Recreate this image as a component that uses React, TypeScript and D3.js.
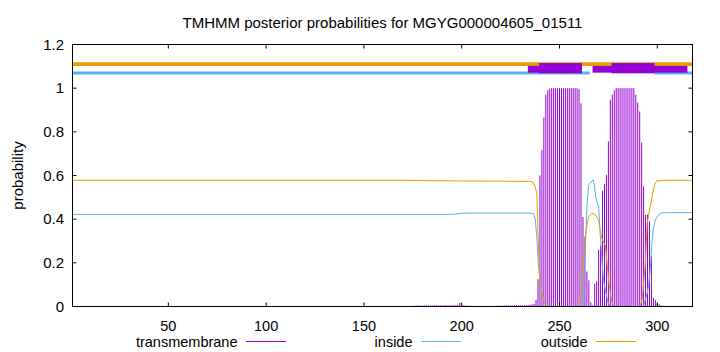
import React from "react";
import * as d3 from "d3";

const TITLE = "TMHMM posterior probabilities for MGYG000004605_01511";
const Y_LABEL = "probability";
const SEQ_LENGTH = 318;

const xTicks = [50, 100, 150, 200, 250, 300];
const yTicks = [0, 0.2, 0.4, 0.6, 0.8, 1, 1.2];
const yTickLabels = ["0", "0.2", "0.4", "0.6", "0.8", "1", "1.2"];

// transmembrane posterior probability per residue, starting at residue 175
const tmStart = 175;
const tmProb = [
  0.003, 0.004, 0.004, 0.005, 0.004, 0.004, 0.005, 0.005, 0.004, 0.005, 0.005, 0.006,
  0.005, 0.005, 0.006, 0.005, 0.006, 0.006, 0.005, 0.006, 0.006, 0.006, 0.007, 0.008,
  0.016,
  0.006, 0.005, 0.005, 0.004, 0.004, 0.003, 0.003,
  0.002, 0.002, 0.001, 0.001, 0.001, 0.001, 0.001, 0.002, 0.002,
  0.003, 0.003, 0.004, 0.004, 0.004, 0.004, 0.005, 0.005, 0.005, 0.005, 0.005, 0.005,
  0.006, 0.006, 0.006, 0.006, 0.006, 0.007, 0.007, 0.008, 0.01,
  0.012, 0.03, 0.125, 0.6, 0.718, 0.866, 0.97, 0.99,
  0.998, 1, 1, 1, 1, 1, 1, 1, 1, 1, 1, 1, 1, 1, 1,
  0.995, 0.93, 0.41, 0.32, 0.16, 0.12, 0.02, 0.005,
  0.104, 0.115, 0.26, 0.28, 0.53, 0.562, 0.603, 0.756, 0.947, 0.97, 0.99,
  1, 1, 1, 1, 1, 1, 1, 1, 1, 1,
  0.97, 0.934, 0.893, 0.751, 0.55, 0.42, 0.42, 0.39, 0.23, 0.04, 0.03, 0.015, 0.01, 0.005, 0.003,
];

// inside probability [residue, value]
const insidePoints: [number, number][] = [
  [1, 0.422], [195, 0.422], [199, 0.426], [203, 0.428], [234, 0.428], [236.8, 0.425],
  [237.6, 0.4], [238.4, 0.32], [239.3, 0.18], [240.1, 0.12], [241, 0.06], [242.2, 0.03],
  [244.4, 0.005], [246, 0], [261.5, 0], [262.3, 0.12], [263.2, 0.27], [264, 0.457],
  [264.9, 0.557], [265.7, 0.564], [266.6, 0.575], [267.2, 0.58], [267.9, 0.55], [268.5, 0.5],
  [269.1, 0.48], [270, 0.46], [270.8, 0.335], [271.7, 0.213], [272.5, 0.12], [273.8, 0.06],
  [274.9, 0.015], [276, 0], [292.9, 0], [294.8, 0.06], [295.6, 0.1], [296.5, 0.18],
  [297.3, 0.3], [298.1, 0.36], [299, 0.396], [299.9, 0.41], [301.6, 0.427], [304.1, 0.43],
  [318, 0.43],
];

// outside probability [residue, value]
const outsidePoints: [number, number][] = [
  [1, 0.578], [170, 0.578], [178, 0.577], [185, 0.576], [200, 0.575], [220, 0.574],
  [234, 0.573], [236.5, 0.57], [237.5, 0.55], [238.4, 0.518], [239.3, 0.26], [240.1, 0.106],
  [241.8, 0.03], [242.7, 0.008], [244.5, 0], [259.7, 0], [260.6, 0.04], [261.5, 0.12],
  [262.3, 0.228], [263.2, 0.32], [264, 0.37], [264.9, 0.41], [266.6, 0.427], [268.3, 0.42],
  [269.2, 0.41], [270, 0.39], [271, 0.34], [271.7, 0.31], [273.4, 0.28], [274.3, 0.2],
  [275.1, 0.12], [276.5, 0.03], [277.7, 0], [291, 0], [292.2, 0.03], [293.9, 0.2],
  [294.8, 0.38], [295.6, 0.42], [296.4, 0.46], [297.3, 0.5], [298.1, 0.54], [299, 0.566],
  [299.8, 0.575], [305, 0.578], [318, 0.578],
];

// topology bars at the top: [from, to]
const outsideBar: [number, number][] = [[1, 318]];
const insideBars: [number, number][] = [[1, 265.5], [298.5, 318]];
const tmThinBars: [number, number][] = [[233.8, 261.5], [266.9, 315.4]];
const tmThickBars: [number, number][] = [[239.6, 261.5], [276.6, 298.6]];
const OUTSIDE_LEVEL = 1.11;
const INSIDE_LEVEL = 1.07;
const TM_THIN_BAND: [number, number] = [1.071, 1.102];
const TM_THICK_BAND: [number, number] = [1.068, 1.115];

const legendItems = ["transmembrane", "inside", "outside"];

const C_TM = "#9400D3";
const C_IN = "#56B4E9";
const C_OUT = "#E69F00";
const FONT = "'Liberation Sans', Arial, Helvetica, sans-serif";

export default function App() {
  const W = 720, H = 352;
  const left = 72.5, right = 692.5, top = 44.5, bottom = 306.5;
  const x = d3.scaleLinear().domain([1, SEQ_LENGTH]).range([left, right]);
  const y = d3.scaleLinear().domain([0, 1.2]).range([bottom, top]);
  const line = d3.line<[number, number]>().x((d) => x(d[0])).y((d) => y(d[1]));
  const tickLen = 4;
  const legendColors = [C_TM, C_IN, C_OUT];
  const legendTextEnd = [237.5, 412.5, 587.5];
  const fs = 15;
  const fsSmall = 14.5;

  return (
    <svg
      width={W}
      height={H}
      style={{ position: "absolute", left: 0, top: 0, background: "#fff" }}
      fontFamily={FONT}
    >
      <rect x={0} y={0} width={W} height={H} fill="#fff" />
      <text x={(left + right) / 2} y={27.5} textAnchor="middle" fontSize={fs} fill="#000">
        {TITLE}
      </text>
      <text
        transform={`translate(17,${(top + bottom) / 2}) rotate(-90)`}
        textAnchor="middle"
        dominantBaseline="central"
        fontSize={fs}
        fill="#000"
      >
        {Y_LABEL}
      </text>

      {/* impulses */}
      <g stroke={C_TM} strokeWidth={1}>
        {tmProb.map((v, i) => (
          <line key={i} x1={x(tmStart + i)} x2={x(tmStart + i)} y1={y(0)} y2={y(v)} />
        ))}
      </g>
      <path d={line(insidePoints) || ""} fill="none" stroke={C_IN} strokeWidth={1} />
      <path d={line(outsidePoints) || ""} fill="none" stroke={C_OUT} strokeWidth={1} />

      {/* topology bars */}
      {outsideBar.map((b, i) => (
        <line key={"o" + i} x1={x(b[0])} x2={x(b[1])} y1={y(OUTSIDE_LEVEL)} y2={y(OUTSIDE_LEVEL)} stroke={C_OUT} strokeWidth={3.8} />
      ))}
      {insideBars.map((b, i) => (
        <line key={"i" + i} x1={x(b[0])} x2={x(b[1])} y1={y(INSIDE_LEVEL)} y2={y(INSIDE_LEVEL)} stroke={C_IN} strokeWidth={3} />
      ))}
      {tmThinBars.map((b, i) => (
        <rect key={"t" + i} x={x(b[0])} width={x(b[1]) - x(b[0])} y={y(TM_THIN_BAND[1])} height={y(TM_THIN_BAND[0]) - y(TM_THIN_BAND[1])} fill={C_TM} />
      ))}
      {tmThickBars.map((b, i) => (
        <rect key={"T" + i} x={x(b[0])} width={x(b[1]) - x(b[0])} y={y(TM_THICK_BAND[1])} height={y(TM_THICK_BAND[0]) - y(TM_THICK_BAND[1])} fill={C_TM} />
      ))}

      {/* frame */}
      <rect x={left} y={top} width={right - left} height={bottom - top} fill="none" stroke="#000" strokeWidth={1} />

      {/* y ticks */}
      {yTicks.map((t, i) => (
        <g key={"y" + i}>
          <line x1={left} x2={left + tickLen} y1={y(t)} y2={y(t)} stroke="#000" />
          <line x1={right} x2={right - tickLen} y1={y(t)} y2={y(t)} stroke="#000" />
          <text x={64} y={y(t)} dy="0.35em" textAnchor="end" fontSize={fs} fill="#000">
            {yTickLabels[i]}
          </text>
        </g>
      ))}
      {/* x ticks */}
      {xTicks.map((t) => (
        <g key={"x" + t}>
          <line x1={x(t)} x2={x(t)} y1={bottom} y2={bottom - tickLen} stroke="#000" />
          <line x1={x(t)} x2={x(t)} y1={top} y2={top + tickLen} stroke="#000" />
          <text x={x(t)} y={330.5} textAnchor="middle" fontSize={fsSmall} fill="#000">
            {t}
          </text>
        </g>
      ))}

      {/* legend */}
      {legendItems.map((name, i) => (
        <g key={name}>
          <text x={legendTextEnd[i]} y={347} textAnchor="end" fontSize={fsSmall} fill="#000">
            {name}
          </text>
          <line x1={legendTextEnd[i] + 8.5} x2={legendTextEnd[i] + 48.5} y1={341.5} y2={341.5} stroke={legendColors[i]} strokeWidth={1} />
        </g>
      ))}
    </svg>
  );
}
